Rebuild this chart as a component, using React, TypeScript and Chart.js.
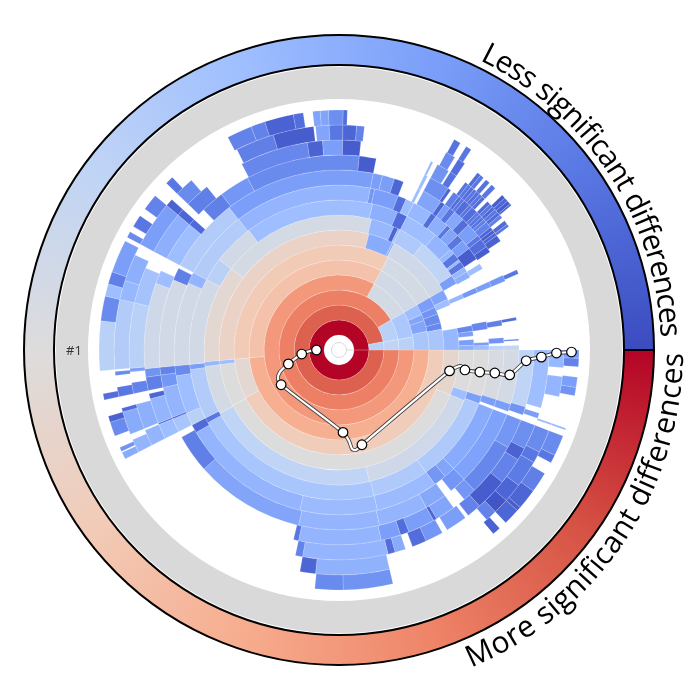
import React, { useEffect, useRef } from "react";
import { Chart, registerables } from "chart.js";

Chart.register(...registerables);

// Each level is one ring of the sunburst: spans are degrees, clockwise from east.
// Tones run 0..1 along the blue-to-red palette; null marks an empty span.
const level1Spans = [360];
const level1Tones = [1];
const level2Spans = [349.5, 10.5];
const level2Tones = [0.87, 0.38];
const level3Spans = [330, 20, 10];
const level3Tones = [0.81, 0.38, 0.4];
const level4Spans = [298, 32, 20, 10];
const level4Tones = [0.75, 0.47, 0.34, 0.38];
const level5Spans = [175, 123, 32, 7, 4, 7, 12];
const level5Tones = [0.69, 0.63, 0.46, 0.3, 0.22, 0.22, 0.33];
const level6Spans = [153, 22, 123, 32, 6, 4, 5, 3.5, 11.5];
const level6Tones = [0.59, 0.53, 0.6, 0.47, 0.2, 0.17, 0.15, 0.14, 0.33];
const level7Spans = [22, 130.5, 20.5, 2, 109.5, 12, 1, 32.5, 5, 3, 11.5, 10.5];
const level7Tones = [0.54, 0.5, 0.5, 0.3, 0.56, 0.24, 0.27, 0.45, 0.22, 0.3, null, 0.28];
const level8Spans = [18, 4, 55, 75, 21, 2, 42, 67, 10, 2, 1, 11.3, 18.3, 3.9, 5, 2, 12, 2.5, 2, 1.5, 2.5, 2];
const level8Tones = [0.5, 0.3, 0.45, 0.4, 0.47, 0.28, 0.53, 0.47, 0.28, 0.06, 0.3, 0.35, 0.4, 0.2, null, 0.28, null, 0.14, 0.2, null, 0.2, 0.25];
const level9Spans = [18, 3, 33.6, 21.9, 74.5, 2, 19.5, 2, 33.5, 9, 16, 50, 10, 4, 13, 8, 2, 3, 1, 2.5, 2, 2.5, 4.5, 2, 11.5, 3, 3.5, 1.5, 1.3, 1.7];
const level9Tones = [0.5, 0.2, 0.35, 0.35, 0.33, 0.1, 0.36, 0.2, 0.46, 0.38, 0.46, 0.3, 0.25, 0.07, 0.3, 0.27, 0.28, 0.1, 0.28, 0.1, 0.28, 0.25, null, 0.18, null, 0.14, null, null, 0.2, 0.3];
const level10Spans = [17.5, 2.5, 1, 25, 4, 4.5, 22, 27.3, 46.2, 3, 4.5, 13.5, 3.5, 29.5, 4, 24.5, 48.5, 1.5, 8.5, 3, 3, 7, 2, 5, 1.5, 3.5, 2.5, 3.5, 4.5, 2, 2, 5, 2, 12, 2, 4.2, 1.9, 0.9, 1.5];
const level10Tones = [0.48, 0.2, null, 0.24, 0.22, 0.18, 0.29, 0.29, 0.27, 0.07, 0.38, 0.3, 0.15, 0.46, 0.27, 0.36, 0.27, 0.18, 0.2, 0.08, 0.3, 0.28, 0.08, 0.25, 0.1, 0.22, 0.1, 0.2, 0.04, null, 0.3, null, 0.2, null, 0.12, null, 0.17, null, 0.4];
const level11Spans = [17.5, 2.5, 1, 25, 5.5, 2.5, 7, 16, 26, 35.6, 12.4, 2, 4.5, 0.5, 10, 4, 2.5, 28.5, 4, 1, 24.4, 48.6, 3, 4, 3, 5, 1, 1, 6.5, 1.5, 2, 2, 3.5, 2.5, 4.5, 1.5, 3, 2, 8.5, 2, 12, 1, 6, 0.5, 1.5, 1.5];
const level11Tones = [0.47, 0.2, null, 0.21, 0.18, null, 0.23, 0.27, 0.27, 0.22, 0.12, null, 0.33, 0.05, 0.27, 0.18, 0.13, 0.46, 0.12, null, 0.36, 0.2, 0.2, 0.2, 0.06, null, 0.3, null, 0.22, 0.06, 0.2, 0.1, 0.23, 0.08, 0.2, 0.1, 0.08, 0.04, null, 0.18, null, 0.08, null, 0.13, null, 0.42];
const level12Spans = [17, 2.5, 1.5, 9, 16, 4, 4, 6, 1, 8, 2.6, 5.9, 24.5, 1.5, 49.5, 4.5, 0.5, 7.5, 1.5, 1, 4, 2.5, 25.5, 4, 4, 12, 2, 4, 7, 9, 34, 5, 15, 1, 1, 6, 1, 1, 2, 1, 1, 2, 1, 2, 1, 1, 1, 1, 2, 1, 1, 1, 2, 9.7, 1.3, 23];
const level12Tones = [0.4, 0.17, null, 0.18, 0.14, 0.18, null, 0.22, 0.06, 0.2, 0.08, 0.2, 0.27, 0.1, null, 0.3, 0.08, 0.27, 0.06, null, 0.12, 0.17, 0.45, 0.3, null, 0.3, 0.07, null, 0.12, 0.18, 0.15, 0.04, null, 0.3, null, 0.16, 0.06, null, 0.12, 0.08, 0.1, 0.08, 0.1, 0.08, 0.1, 0.09, 0.09, 0.12, 0.13, 0.06, 0.04, 0.06, 0.05, null, 0.1, null];
const level13Spans = [16, 1.5, 1.5, 2, 7, 3.5, 7.5, 9, 4, 1, 6, 1.5, 5, 4, 2, 3, 2, 23.5, 2, 51, 4.5, 0.5, 7, 3, 3, 3, 1, 18, 10, 5, 12, 2, 2, 7, 11.4, 18.9, 4.2, 5.5, 5, 20, 0.6, 1.4, 3.5, 0.5, 2, 3, 1, 1, 1, 1, 1, 1, 1, 1, 1, 1, 1, 1, 1, 1, 1, 1.2, 0.8, 36];
const level13Tones = [0.3, null, 0.2, null, 0.16, 0.05, 0.13, 0.04, 0.13, null, 0.2, null, 0.18, 0.08, null, 0.24, 0.08, 0.27, 0.13, null, 0.27, null, 0.25, null, 0.13, null, 0.2, 0.38, 0.32, null, 0.25, 0.06, null, 0.12, null, 0.14, 0.05, 0.2, 0.04, null, 0.28, null, 0.17, null, 0.09, null, 0.09, 0.1, 0.08, 0.1, 0.08, 0.1, 0.08, null, 0.07, 0.1, 0.07, 0.1, 0.07, 0.12, null, 0.07, 0.1, null];
const level14Spans = [4.5, 2.3, 5.2, 7, 0.5, 1.5, 6, 3, 7, 5, 4, 3, 28, 19, 4, 53, 3.5, 1.5, 6, 1, 3, 2.5, 3, 1, 0.5, 18, 5, 7, 3, 12, 2, 2, 5, 14, 10, 10.5, 0.5, 3.5, 3.5, 3.5, 2, 22, 2.5, 1, 2, 4, 1, 1, 0.8, 1.2, 0.7, 1.3, 2.5, 1, 1, 1, 0.5, 40];
const level14Tones = [0.28, null, 0.27, null, 0.28, null, 0.15, 0.1, 0.11, 0.06, 0.02, 0.13, null, 0.26, 0.06, null, 0.27, null, 0.24, 0.07, null, 0.1, null, 0.15, null, 0.36, 0.28, 0.25, null, 0.2, 0.05, null, 0.15, null, 0.12, 0.04, null, 0.22, 0.1, 0.06, 0.13, null, 0.15, null, 0.08, null, 0.08, 0.1, null, 0.09, null, 0.1, null, 0.04, 0.06, 0.04, 0.06, null];
const level15Spans = [2, 2, 2.5, 2.5, 2, 8, 0.5, 1.5, 5, 2, 3, 5, 5, 1, 4, 2, 2, 27, 12, 6.8, 57.2, 1.7, 0.3, 1, 3, 3.5, 1.5, 4, 1.5, 5.5, 12, 6, 3, 3, 8, 1, 1.5, 1.5, 3, 2, 4, 4, 2, 16.4, 6.1, 3.5, 7, 2.4, 2.3, 1.8, 2, 3.5, 1, 26.7, 1.7, 1.6, 1.4, 56.6];
const level15Tones = [0.2, 0.13, null, 0.2, 0.17, null, 0.28, null, 0.15, 0.1, null, 0.12, 0.06, 0.04, 0.06, null, 0.05, null, 0.17, 0.15, null, 0.24, null, 0.17, null, 0.15, 0.05, null, 0.08, null, 0.38, 0.15, 0.3, 0.12, 0.2, null, 0.15, null, 0.1, null, 0.13, null, 0.1, null, 0.13, 0.13, 0.05, 0.08, null, 0.22, 0.22, 0.16, 0.08, null, 0.09, null, 0.1, null];

const levelSpans = [level15Spans, level14Spans, level13Spans, level12Spans, level11Spans, level10Spans, level9Spans, level8Spans, level7Spans, level6Spans, level5Spans, level4Spans, level3Spans, level2Spans, level1Spans];
const levelTones = [level15Tones, level14Tones, level13Tones, level12Tones, level11Tones, level10Tones, level9Tones, level8Tones, level7Tones, level6Tones, level5Tones, level4Tones, level3Tones, level2Tones, level1Tones];

// Highlighted path through the rings: radius and clockwise angle of each vertex.
const pathRadii = [22.5, 29, 37.5, 52.5, 63, 67.5, 67.5, 82.5, 91.5, 99.8, 101.4, 97.5, 112.5, 119, 123, 127.5, 142.5, 157.5, 172.5, 187.5, 202.5, 217.5, 232.5];
const pathAngles = [180, 178, 173.8, 164.6, 159.6, 154.6, 149, 87.2, 83.7, 82.5, 80.4, 76.4, 10.7, 8.2, 7.5, 9, 8.9, 8.4, 8.3, 3.3, 2, 0.8, 0.5];
const pathMarked = [1, 0, 1, 1, 0, 0, 1, 1, 0, 0, 0, 1, 1, 0, 0, 1, 1, 1, 1, 1, 1, 1, 1];

const palette = ["#3b4cc0", "#5977e3", "#7b9ff9", "#9ebeff", "#c0d4f5", "#dddcdc", "#f2cbb7", "#f7ac8e", "#ee8468", "#d65244", "#b40426"];
const lessLabel = "Less significant differences";
const moreLabel = "More significant differences";
const rankLabel = "#1";

const hexToRgb = (h: string) => [1, 3, 5].map((i) => parseInt(h.slice(i, i + 2), 16));
function toneColor(t: number) {
  const p = Math.min(Math.max(t, 0), 1) * (palette.length - 1);
  const i = Math.min(Math.floor(p), palette.length - 2);
  const a = hexToRgb(palette[i]);
  const b = hexToRgb(palette[i + 1]);
  const f = p - i;
  const c = a.map((v, k) => Math.round(v + (b[k] - v) * f));
  return `rgb(${c[0]},${c[1]},${c[2]})`;
}

function arcText(ctx: CanvasRenderingContext2D, text: string, cx: number, cy: number, R: number, startDeg: number, endDeg: number) {
  const dir = endDeg > startDeg ? 1 : -1;
  const total = ctx.measureText(text).width;
  const arc = (Math.abs(endDeg - startDeg) * Math.PI * R) / 180;
  const k = arc / total;
  for (let i = 0; i < text.length; i++) {
    const before = ctx.measureText(text.slice(0, i)).width;
    const w = ctx.measureText(text[i]).width;
    const a = (startDeg * Math.PI) / 180 + (dir * (before + w / 2) * k) / R;
    ctx.save();
    ctx.translate(cx + R * Math.cos(a), cy + R * Math.sin(a));
    ctx.rotate(a + (dir * Math.PI) / 2);
    ctx.fillText(text[i], 0, 0);
    ctx.restore();
  }
}

const decorations = {
  id: "decorations",
  afterDatasetsDraw(chart: any) {
    const { ctx, chartArea } = chart;
    const cx = (chartArea.left + chartArea.right) / 2;
    const cy = (chartArea.top + chartArea.bottom) / 2;
    ctx.save();
    ctx.strokeStyle = "#d9d9d9";
    ctx.lineWidth = 1;
    ctx.beginPath();
    ctx.arc(cx, cy, 7.5, 0, Math.PI * 2);
    ctx.moveTo(cx + 7.5, cy);
    ctx.lineTo(cx + 15, cy);
    ctx.stroke();
    ctx.fillStyle = "#000";
    ctx.textAlign = "center";
    ctx.textBaseline = "alphabetic";
    ctx.font = '30px "Open Sans"';
    arcText(ctx, lessLabel, cx, cy, 322, -64, -2.3);
    arcText(ctx, moreLabel, cx, cy, 344, 67.5, 0.5);
    ctx.fillStyle = "#333";
    ctx.font = '13px "Open Sans"';
    ctx.textBaseline = "middle";
    ctx.fillText(rankLabel, 74, 351);
    ctx.restore();
  },
};

const pad = { left: 24, right: 46, top: 35, bottom: 35 };
const canvasStyle: React.CSSProperties = { position: "fixed", left: 0, top: 0 };

export default function App() {
  const ref = useRef<HTMLCanvasElement>(null);
  const pathRef = useRef<HTMLCanvasElement>(null);
  useEffect(() => {
    const canvas = ref.current;
    const pathCanvas = pathRef.current;
    if (!canvas || !pathCanvas) return;
    const ringGradient = (c: any) => {
      const { chart } = c;
      const area = chart.chartArea;
      if (!area) return "#ccc";
      const g = chart.ctx.createConicGradient(0, (area.left + area.right) / 2, (area.top + area.bottom) / 2);
      palette.forEach((col, i) => g.addColorStop(1 - i / (palette.length - 1), col));
      return g;
    };
    const clear = "rgba(0,0,0,0)";
    const rings = levelSpans.map((spans, i) => ({
      data: spans,
      weight: 15,
      backgroundColor: levelTones[i].map((t) => (t === null || t === undefined ? clear : toneColor(t))),
      borderColor: levelTones[i].map((t) => (t === null || t === undefined ? clear : "rgba(255,255,255,0.32)")),
      borderWidth: 0.5,
    }));
    const chart = new Chart(canvas, {
      type: "doughnut",
      data: {
        datasets: [
          { data: [360], weight: 30, backgroundColor: ringGradient, borderColor: "#000", borderWidth: 2 },
          { data: [360], weight: 2, backgroundColor: clear, borderWidth: 0 },
          { data: [360], weight: 32, backgroundColor: "#d9d9d9", borderWidth: 0 },
          { data: [360], weight: 11, backgroundColor: clear, borderWidth: 0 },
          ...rings,
        ],
      } as any,
      options: {
        responsive: false,
        animation: false,
        devicePixelRatio: 1,
        rotation: 90,
        radius: 315,
        cutout: `${(15 / 315) * 100}%`,
        events: [],
        layout: { padding: pad },
        plugins: { legend: { display: false }, tooltip: { enabled: false } },
      } as any,
      plugins: [decorations],
    });
    const points = pathRadii.map((r, i) => ({
      x: r * Math.cos((pathAngles[i] * Math.PI) / 180),
      y: r * Math.sin((pathAngles[i] * Math.PI) / 180),
    }));
    const pathChart = new Chart(pathCanvas, {
      type: "line",
      data: {
        datasets: [
          {
            order: 1, data: points, borderColor: "#fff", borderWidth: 2.2, tension: 0.25, fill: false,
            pointRadius: pathMarked.map((m) => (m ? 4.8 : 0)),
            pointBackgroundColor: "#fff", pointBorderColor: "#000", pointBorderWidth: 1.2,
          },
          { order: 2, data: points, borderColor: "#444", borderWidth: 4, tension: 0.25, pointRadius: 0, fill: false },
        ],
      } as any,
      options: {
        responsive: false,
        animation: false,
        devicePixelRatio: 1,
        events: [],
        layout: { padding: pad },
        scales: {
          x: { type: "linear", min: -315, max: 315, display: false },
          y: { type: "linear", min: -315, max: 315, reverse: true, display: false },
        },
        plugins: { legend: { display: false }, tooltip: { enabled: false } },
      } as any,
    });
    return () => {
      chart.destroy();
      pathChart.destroy();
    };
  }, []);
  return (
    <div>
      <canvas ref={ref} width={700} height={700} style={{ ...canvasStyle, background: "#fff" }} />
      <canvas ref={pathRef} width={700} height={700} style={canvasStyle} />
    </div>
  );
}
